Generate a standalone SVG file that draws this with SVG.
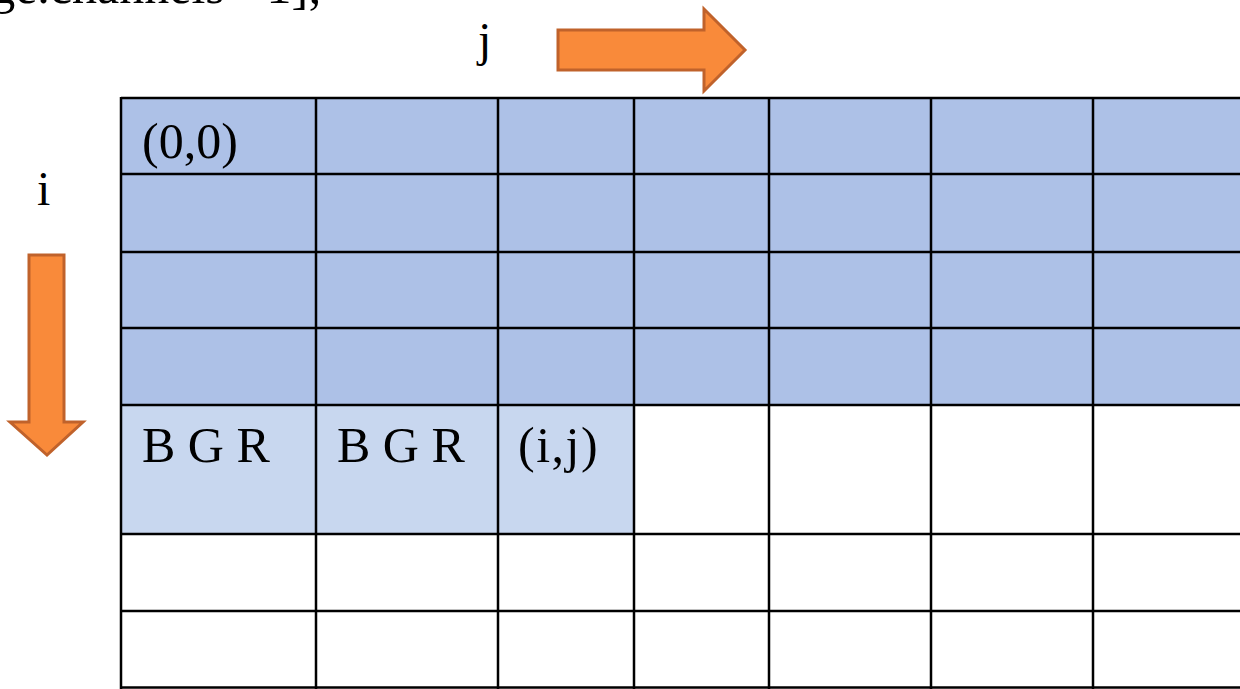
<svg xmlns="http://www.w3.org/2000/svg" width="1240" height="689" viewBox="0 0 1240 689">
  <style>
    .t { font-family: "Liberation Serif", "Times New Roman", serif; fill: #000; }
    .cellA { fill: #ADC1E7; }
    .cellB { fill: #C8D7EF; }
    .grid { stroke: #000; stroke-width: 2.5; fill: none; }
    .arrow { fill: #F98A3A; stroke: #C0622B; stroke-width: 3; stroke-linejoin: miter; }
  </style>
  <rect width="1240" height="689" fill="#fff"/>

  <text class="t" x="322" y="2.5" font-size="50" text-anchor="end">image.channels - 1];</text>

  <g id="label-j"><text class="t" x="478" y="56" font-size="48">j</text></g>
  <g id="label-i"><text class="t" x="37" y="205" font-size="48">i</text></g>

  <g id="arrows">
    <polygon class="arrow" points="558,30 704,30 704,9 745,50 704,91 704,70 558,70"/>
    <polygon class="arrow" points="29,255 64,255 64,422 83,422 47,455 10,422 29,422"/>
  </g>

  <g id="fills">
    <rect class="cellA" x="121" y="98" width="1119" height="307"/>
    <rect class="cellB" x="121" y="405" width="513" height="129"/>
  </g>

  <g id="grid">
    <line class="grid" x1="121" y1="98" x2="1240" y2="98"/>
    <line class="grid" x1="121" y1="174" x2="1240" y2="174"/>
    <line class="grid" x1="121" y1="252" x2="1240" y2="252"/>
    <line class="grid" x1="121" y1="328" x2="1240" y2="328"/>
    <line class="grid" x1="121" y1="405" x2="1240" y2="405"/>
    <line class="grid" x1="121" y1="534" x2="1240" y2="534"/>
    <line class="grid" x1="121" y1="611" x2="1240" y2="611"/>
    <line class="grid" x1="121" y1="687.5" x2="1240" y2="687.5"/>
    <line class="grid" x1="121" y1="97" x2="121" y2="689"/>
    <line class="grid" x1="316" y1="97" x2="316" y2="689"/>
    <line class="grid" x1="498" y1="97" x2="498" y2="689"/>
    <line class="grid" x1="634" y1="97" x2="634" y2="689"/>
    <line class="grid" x1="769" y1="97" x2="769" y2="689"/>
    <line class="grid" x1="931" y1="97" x2="931" y2="689"/>
    <line class="grid" x1="1093" y1="97" x2="1093" y2="689"/>
  </g>

  <g id="cell-0-0"><text class="t" x="142" y="158" font-size="50">(0,0)</text></g>
  <g id="cell-4-0"><text class="t" x="142" y="462" font-size="50">B G R</text></g>
  <g id="cell-4-1"><text class="t" x="337" y="462" font-size="50">B G R</text></g>
  <g id="cell-4-2"><text class="t" x="518" y="462" font-size="50" letter-spacing="1.5">(i,j)</text></g>
</svg>
